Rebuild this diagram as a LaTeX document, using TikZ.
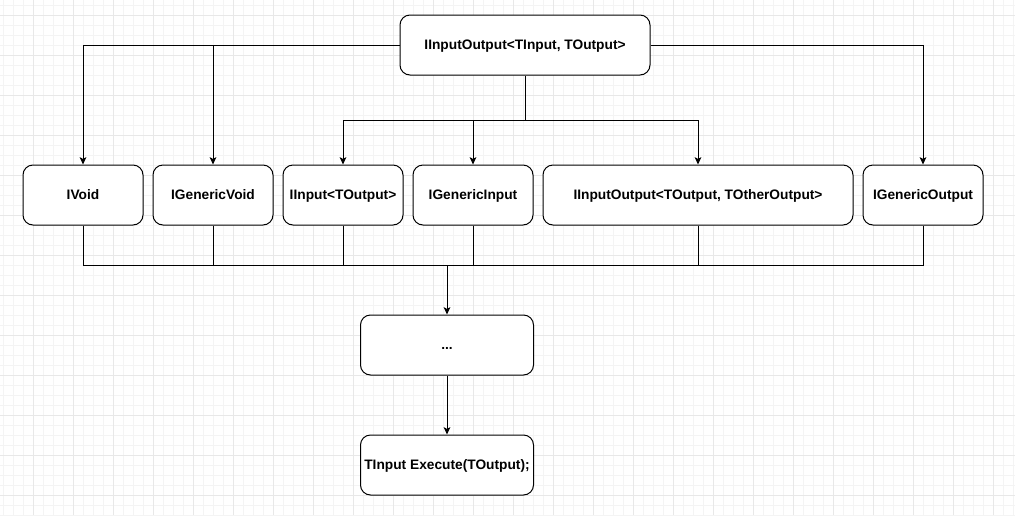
\documentclass[tikz,border=0pt]{standalone}
\usepackage{fontspec}
\setmainfont{Liberation Sans}
\usetikzlibrary{arrows.meta}
\begin{document}
\begin{tikzpicture}[x=0.75pt,y=-0.75pt,
  gridminor/.style={draw={rgb,255:red,244;green,244;blue,244},line width=0.75pt},
  gridmajor/.style={draw={rgb,255:red,232;green,232;blue,232},line width=0.75pt},
  box/.style={draw,line width=0.75pt,rounded corners=7.5pt,fill=white,
    minimum height=45pt,minimum width=90pt,inner sep=0pt,
    text height=7pt,text depth=0pt,
    font=\fontsize{10.3pt}{12pt}\selectfont\bfseries},
  link/.style={line width=0.75pt},
  arr/.style={link,-{Stealth[length=5.5pt,width=5pt,inset=1.3pt]}}]
% canvas and grid
\useasboundingbox (0,0) rectangle (1015,515);
\fill[white] (0,0) rectangle (1015,515);
\foreach \x in {3,13,...,1013} \draw[gridminor] (\x,0) -- (\x,515);
\foreach \y in {5,15,...,515} \draw[gridminor] (0,\y) -- (1015,\y);
\foreach \x in {33,73,...,1013} \draw[gridmajor] (\x,0) -- (\x,515);
\foreach \y in {15,55,...,515} \draw[gridmajor] (0,\y) -- (1015,\y);

% nodes
\node[box,minimum width=187.5pt] (top) at (525,45) {IInputOutput<TInput, TOutput>};
\node[box] (ivoid) at (83,195) {IVoid};
\node[box] (igvoid) at (213,195) {IGenericVoid};
\node[box] (iinput) at (343,195) {IInput<TOutput>};
\node[box] (iginput) at (473,195) {IGenericInput};
\node[box,minimum width=232.5pt] (iio) at (698,195) {IInputOutput<TOutput, TOtherOutput>};
\node[box] (igoutput) at (923,195) {IGenericOutput};
\node[box,minimum width=129.75pt] (dots) at (447,345) {...};
\node[box,minimum width=129.75pt] (exec) at (447,465) {TInput Execute(TOutput);};

% fan-out from the top interface
\coordinate (split) at (525,120);
\coordinate (bus) at (447,265);
\draw[arr] (top.west) -| (ivoid.north);
\draw[arr] (igvoid.north |- top.west) -- (igvoid.north);
\draw[arr] (top.east) -| (igoutput.north);
\draw[link] (top.south) -- (split);
\draw[arr] (split) -| (iinput.north);
\draw[arr] (split) -| (iio.north);
\draw[arr] (iginput.north |- split) -- (iginput.north);

% collecting bus
\draw[link] (ivoid.south) |- (igoutput.south |- bus) -- (igoutput.south);
\draw[link] (igvoid.south) -- (igvoid.south |- bus);
\draw[link] (iinput.south) -- (iinput.south |- bus);
\draw[link] (iginput.south) -- (iginput.south |- bus);
\draw[link] (iio.south) -- (iio.south |- bus);
\draw[arr] (bus) -- (dots.north);
\draw[arr] (dots.south) -- (exec.north);
\end{tikzpicture}
\end{document}
